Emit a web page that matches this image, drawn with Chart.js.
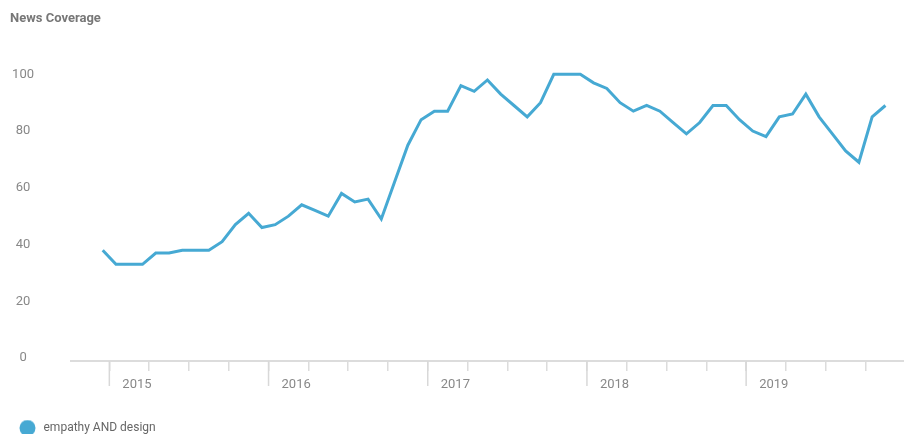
<!DOCTYPE html>
<html>
<head>
<meta charset="utf-8">
<script src="https://cdn.jsdelivr.net/npm/chart.js@4"></script>
<style>
  html, body { margin: 0; padding: 0; background: #fff; overflow: hidden; }
  #wrap { width: 904px; height: 444px; }
</style>
</head>
<body>
<div id="wrap"><canvas id="myChart"></canvas></div>
<script>
let months = [
  '2014-12',
  '2015-01', '2015-02', '2015-03', '2015-04', '2015-05', '2015-06', '2015-07', '2015-08', '2015-09', '2015-10', '2015-11', '2015-12',
  '2016-01', '2016-02', '2016-03', '2016-04', '2016-05', '2016-06', '2016-07', '2016-08', '2016-09', '2016-10', '2016-11', '2016-12',
  '2017-01', '2017-02', '2017-03', '2017-04', '2017-05', '2017-06', '2017-07', '2017-08', '2017-09', '2017-10', '2017-11', '2017-12',
  '2018-01', '2018-02', '2018-03', '2018-04', '2018-05', '2018-06', '2018-07', '2018-08', '2018-09', '2018-10', '2018-11', '2018-12',
  '2019-01', '2019-02', '2019-03', '2019-04', '2019-05', '2019-06', '2019-07', '2019-08', '2019-09', '2019-10', '2019-11'
]
let coverage = [
  38, 33, 33, 33, 37, 37, 38, 38, 38, 41, 47, 51,
  46, 47, 50, 54, 52, 50, 58, 55, 56, 49, 62, 75,
  84, 87, 87, 96, 94, 98, 93, 89, 85, 90, 100, 100,
  100, 97, 95, 90, 87, 89, 87, 83, 79, 83, 89, 89,
  84, 80, 78, 85, 86, 93, 85, 79, 73, 69, 85, 89
]
let years = ['2015', '2016', '2017', '2018', '2019']
let yTicks = [0, 20, 40, 60, 80, 100]
let seriesName = 'empathy AND design'

const blue = '#46a9d3'
const grey = '#888'

// months counted from Jan 2015, point sits mid-month
function monthPos(label) {
  let [y, m] = label.split('-').map(Number)
  return (y - 2015) * 12 + (m - 1) + 0.5
}
function yearPos(y) {
  return (Number(y) - 2015) * 12
}

let points = months.map((m, i) => ({ x: monthPos(m), y: coverage[i] }))

// round legend marker
let dot = document.createElement('canvas')
dot.width = 17
dot.height = 17
let dctx = dot.getContext('2d')
dctx.fillStyle = blue
dctx.beginPath()
dctx.arc(8.5, 8.5, 8, 0, Math.PI * 2)
dctx.fill()

// long ticks + year labels under the axis
const yearMarks = {
  id: 'yearMarks',
  afterDraw(chart) {
    const ctx = chart.ctx
    const x = chart.scales.x
    const bottom = chart.chartArea.bottom
    ctx.save()
    ctx.strokeStyle = '#d8d8d8'
    ctx.lineWidth = 1.5
    ctx.fillStyle = grey
    ctx.font = '13px Roboto'
    ctx.textBaseline = 'middle'
    years.forEach(y => {
      const px = x.getPixelForValue(yearPos(y))
      ctx.beginPath()
      ctx.moveTo(px, bottom)
      ctx.lineTo(px, bottom + 25)
      ctx.stroke()
      ctx.fillText(y, px + 13, bottom + 24)
    })
    ctx.restore()
  }
}

let ctx = document.getElementById('myChart').getContext('2d')

let chart = new Chart(ctx, {
  type: 'line',
  data: {
    datasets: [{
      label: seriesName,
      data: points,
      borderColor: blue,
      backgroundColor: blue,
      borderWidth: 3,
      pointRadius: 0,
      tension: 0,
      fill: false
    }]
  },
  options: {
    responsive: true,
    maintainAspectRatio: false,
    devicePixelRatio: 1,
    animation: false,
    layout: { padding: { left: 10, right: 0, top: 0, bottom: 0 } },
    plugins: {
      title: {
        display: true,
        text: 'News Coverage',
        align: 'start',
        color: '#777',
        font: { family: 'Roboto', size: 13, weight: 'bold' },
        padding: { top: 10.5, bottom: 34 }
      },
      legend: {
        position: 'bottom',
        align: 'start',
        labels: {
          usePointStyle: true,
          pointStyle: dot,
          pointStyleWidth: 20,
          padding: 7.5,
          color: '#666',
          font: { family: 'Roboto', size: 12 }
        }
      },
      tooltip: { enabled: false }
    },
    scales: {
      x: {
        type: 'linear',
        min: -2.89,
        max: 59.9,
        afterBuildTicks: s => {
          let t = []
          for (let v = 0; v <= 57; v += 3) t.push({ value: v })
          s.ticks = t
        },
        afterFit: s => { s.height = 53.5 },
        ticks: { display: false },
        grid: { drawOnChartArea: false, tickLength: 10, color: '#dcdcdc', lineWidth: 1.5 },
        border: { color: '#dcdcdc', width: 2 }
      },
      y: {
        min: -1.06,
        max: 105,
        afterBuildTicks: s => { s.ticks = yTicks.map(v => ({ value: v })) },
        afterFit: s => { s.width = 61 },
        ticks: {
          padding: 37,
          crossAlign: 'center',
          color: grey,
          font: { family: 'Roboto', size: 13 }
        },
        grid: { display: false, drawTicks: false },
        border: { display: false }
      }
    }
  },
  plugins: [yearMarks]
})
</script>
</body>
</html>
